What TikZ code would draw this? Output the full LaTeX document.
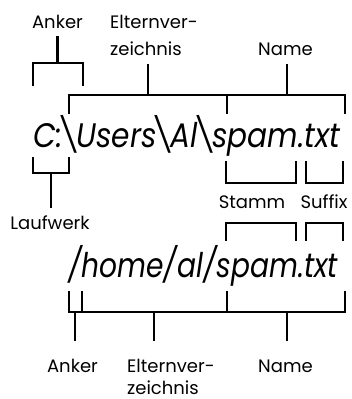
\documentclass[tikz,border=0pt]{standalone}
\usepackage{graphicx}
\usepackage{fontspec}
\setmainfont{Poppins}
\newcommand{\bsl}{\reflectbox{/}}
\begin{document}
\begin{tikzpicture}[x=1pt,y=-1pt,
  br/.style={line width=2.6pt,line cap=rect},
  lbl/.style={inner sep=0pt,anchor=base,font=\fontsize{18}{22}\selectfont},
  lblw/.style={lbl,anchor=base west},
  pathtxt/.style={inner sep=0pt,anchor=base west,font=\fontsize{34}{40}\selectfont\itshape}]
\useasboundingbox (0,0) rectangle (351,399);
% top labels
\node[lbl] (ankA) at (57.5,28) {Anker};
\node[lblw] (eltA) at (110,28) {Elternver-};
\node[lblw] (eltA2) at (110,55) {zeichnis};
\node[lbl] (nameA) at (285.5,55) {Name};
% path 1
\node[pathtxt] (p1) at (33,147) {\resizebox{307pt}{\height}{C:\bsl Users\bsl Al\bsl spam.txt}};
% top brackets
\draw[br] (57.5,37) -- (57.5,63);
\draw[br] (33,85) -- (33,63) -- (83,63) -- (83,85);
\draw[br] (148,65) -- (148,95);
\draw[br] (287,65) -- (287,95);
\draw[br] (69,113) -- (69,95) -- (345,95) -- (345,113);
\draw[br] (227,95) -- (227,113);
% Laufwerk
\draw[br] (33,158) -- (33,173) -- (69,173) -- (69,158);
\node[lbl] (lauf) at (50,229) {Laufwerk};
\draw[br] (51,173) -- (51,207);
% Stamm / Suffix
\draw[br] (226,162) -- (226,183) -- (296,183) -- (296,162);
\draw[br] (306,162) -- (306,183) -- (343,183) -- (343,162);
\node[lbl] (stamm) at (252,208) {Stamm};
\node[lbl] (suffix) at (324,208) {Suffix};
\draw[br] (226,240) -- (226,223) -- (296,223) -- (296,240);
\draw[br] (306,240) -- (306,223) -- (343,223) -- (343,240);
% path 2
\node[pathtxt] (p2) at (68,277) {\resizebox{270pt}{\height}{/home/al/spam.txt}};
% lower brackets
\draw[br] (69,292) -- (69,312) -- (345,312) -- (345,292);
\draw[br] (82,292) -- (82,312);
\draw[br] (227,292) -- (227,312);
\node[lbl] (ankC) at (72.5,372) {Anker};
\node[lblw] (eltC) at (127,372) {Elternver-};
\node[lblw] (eltC2) at (127,394) {zeichnis};
\node[lbl] (nameC) at (285.5,372) {Name};
\draw[br] (75,312) -- (75,340);
\draw[br] (154,312) -- (154,340);
\draw[br] (287,312) -- (287,340);
\end{tikzpicture}
\end{document}
